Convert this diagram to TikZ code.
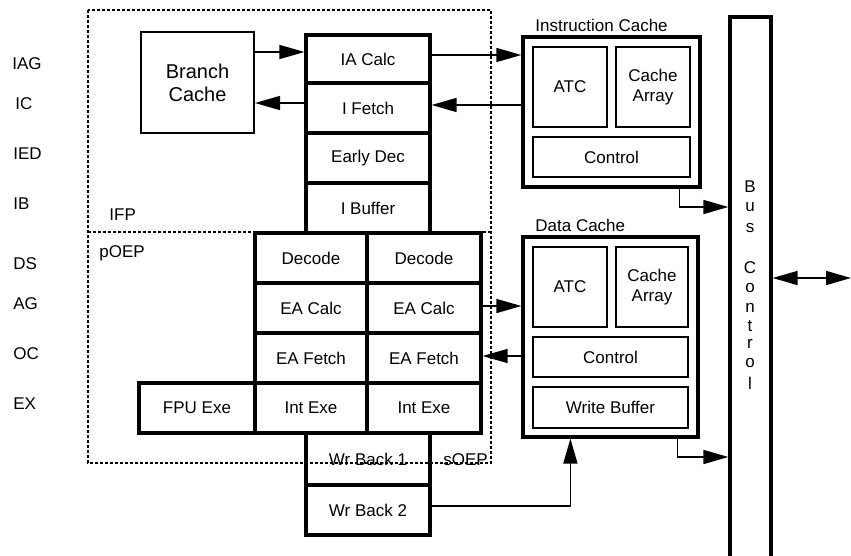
\documentclass[tikz,border=0pt]{standalone}
\usepackage{fontspec}
\setmainfont{Liberation Sans}
\usetikzlibrary{arrows.meta,calc}
\newcommand{\mkbox}[7][]{\node[#1, minimum width={(#5-#3)*0.5}, minimum height={(#6-#4)*0.5}] (#2) at ({(#3+#5)/2},{(#4+#6)/2}) {#7};}
\begin{document}
\begin{tikzpicture}[x=0.5pt,y=-0.5pt,
  every node/.style={inner sep=0pt, align=center, font=\fontsize{8.5}{10}\selectfont},
  pipe/.style={draw, line width=1.6pt},
  inbox/.style={draw, line width=1pt},
  outbox/.style={draw, line width=1.6pt},
  lbl/.style={anchor=west},
  arr/.style={line width=0.75pt, -{Triangle[length=12.5pt,width=7pt]}},
  darr/.style={line width=0.75pt, {Triangle[length=12.5pt,width=7pt]}-{Triangle[length=12.5pt,width=7pt]}},
  region/.style={line width=0.9pt, dash pattern=on 1.5pt off 1pt}]
\useasboundingbox (0,0) rectangle (851,556);
% dotted regions
\draw[region] (88,10) rectangle (491,463);
\draw[region] (88,232) -- (491,232);
% stage labels
\node[lbl] (lIAG) at (12,64) {IAG};
\node[lbl] (lIC) at (15,104) {IC};
\node[lbl] (lIED) at (13,154) {IED};
\node[lbl] (lIB) at (13,204) {IB};
\node[lbl] (lDS) at (13,264) {DS};
\node[lbl] (lAG) at (13,304) {AG};
\node[lbl] (lOC) at (13,354) {OC};
\node[lbl] (lEX) at (13,404) {EX};
% region labels
\node[lbl] (tifp) at (109,215) {IFP};
\node[lbl] (tpoep) at (99,253) {pOEP};
\node[lbl] (tsoep) at (443,460) {sOEP};
% branch cache
\mkbox[inbox, font=\fontsize{10}{11.5}\selectfont]{bc}{141}{32}{254}{133}{Branch\\Cache}
% IFP column
\mkbox[pipe]{iac}{306}{35}{430}{83}{IA Calc}
\mkbox[pipe]{ifet}{306}{83}{430}{133}{I Fetch}
\mkbox[pipe]{edec}{306}{133}{430}{183}{Early Dec}
\mkbox[pipe]{ibuf}{306}{183}{430}{233}{I Buffer}
% OEP pipes
\mkbox[pipe]{dec1}{255}{233}{367}{283}{Decode}
\mkbox[pipe]{dec2}{367}{233}{481}{283}{Decode}
\mkbox[pipe]{eac1}{255}{283}{367}{333}{EA Calc}
\mkbox[pipe]{eac2}{367}{283}{481}{333}{EA Calc}
\mkbox[pipe]{eaf1}{255}{333}{367}{383}{EA Fetch}
\mkbox[pipe]{eaf2}{367}{333}{481}{383}{EA Fetch}
\mkbox[pipe]{ie1}{255}{383}{367}{433}{Int Exe}
\mkbox[pipe]{ie2}{367}{383}{481}{433}{Int Exe}
\mkbox[pipe]{fpu}{139}{383}{255}{433}{FPU Exe}
\mkbox[pipe]{wb1}{306}{433}{430}{485}{Wr Back 1}
\mkbox[pipe]{wb2}{306}{485}{430}{535}{Wr Back 2}
% instruction cache
\node[lbl] (tic) at (535,25) {Instruction Cache};
\mkbox[outbox]{icache}{523}{37}{700}{187}{}
\mkbox[inbox]{icatc}{533}{47}{607}{127}{ATC}
\mkbox[inbox]{icarr}{616}{47}{690}{127}{Cache\\Array}
\mkbox[inbox]{icctl}{533}{137}{690}{177}{Control}
% data cache
\node[lbl] (tdc) at (535,225) {Data Cache};
\mkbox[outbox]{dcache}{523}{237}{698}{437}{}
\mkbox[inbox]{dcatc}{533}{247}{607}{327}{ATC}
\mkbox[inbox]{dcarr}{616}{247}{688}{327}{Cache\\Array}
\mkbox[inbox]{dcctl}{533}{337}{688}{377}{Control}
\mkbox[inbox]{dcwb}{533}{387}{688}{428}{Write Buffer}
% bus control
\mkbox[outbox]{bus}{730}{17}{771}{640}{}
\foreach \ch/\yy [count=\i] in {B/187,u/207,s/228,C/268,o/288,n/308,t/326,r/344,o/363,l/383}
  \node[font=\fontsize{8.5}{9}\selectfont] (bl\i) at (750,\yy) {\ch};
% connectors
\draw[arr] (bc.east |- 0,52) -- (iac.west |- 0,52);
\draw[arr] (ifet.west |- 0,103) -- (bc.east |- 0,103);
\draw[arr] (iac.east |- 0,55) -- (icache.west |- 0,55);
\draw[arr] (icache.west |- 0,105) -- (ifet.east |- 0,105);
\draw[arr] ([xshift=-11pt]icache.south east) |- (bus.west |- 0,207);
\draw[arr] (eac2.east |- 0,306) -- (dcache.west |- 0,306);
\draw[arr] (dcache.west |- 0,356) -- (eaf2.east |- 0,356);
\draw[arr] (wb2.east |- 0,506) -| ([xshift=24.5pt]dcache.south west);
\draw[arr] ([xshift=-11pt]dcache.south east) |- (bus.west |- 0,457);
\coordinate (ext) at (851,278);
\draw[darr] (bus.east |- ext) -- (ext);
\end{tikzpicture}
\end{document}
